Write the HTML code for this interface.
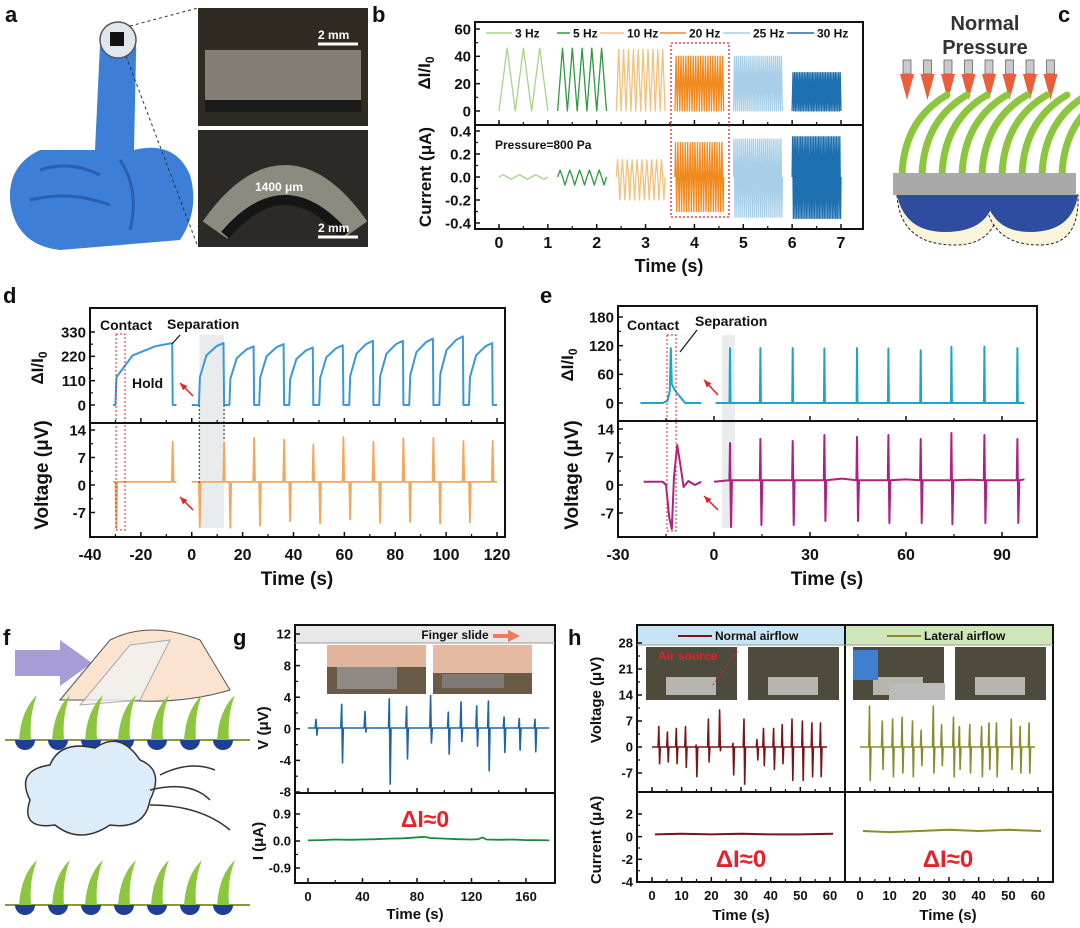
<!DOCTYPE html>
<html><head><meta charset="utf-8"><style>
html,body{margin:0;padding:0;background:#fff;}
svg{display:block;font-family:"Liberation Sans",Arial,sans-serif;font-weight:bold;}
</style></head><body>
<svg id="fig" width="1080" height="928" viewBox="0 0 1080 928" xmlns="http://www.w3.org/2000/svg">
<!-- panel labels -->
<g font-size="22" fill="#111">
<text x="5" y="22">a</text>
<text x="372" y="22">b</text>
<text x="1058" y="22">c</text>
<text x="3" y="303">d</text>
<text x="540" y="303">e</text>
<text x="3" y="645">f</text>
<text x="233" y="645">g</text>
<text x="568" y="645">h</text>
</g>
<!-- panel a illustration -->
<g>
<path d="M100,45 Q105,25 122,28 Q138,32 136,55 L134,150 Q175,140 190,175 Q200,210 180,240 L60,250 Q15,245 10,200 Q8,165 40,150 L95,150 Z" fill="#3d7fd6"/>
<path d="M40,170 Q70,160 100,175 M30,200 Q70,190 110,205 M120,160 Q140,190 130,230" stroke="#2a5fae" stroke-width="3" fill="none"/>
<circle cx="118" cy="40" r="18" fill="#dfe6ee" stroke="#555" stroke-width="1.5"/>
<rect x="110" y="32" width="14" height="14" fill="#111"/>
<line x1="130" y1="26" x2="198" y2="8" stroke="#333" stroke-dasharray="3,3"/>
<line x1="126" y1="56" x2="198" y2="247" stroke="#333" stroke-dasharray="3,3"/>
<rect x="198" y="8" width="170" height="118" fill="#2f2a22"/>
<rect x="205" y="50" width="156" height="52" fill="#9a958a" opacity="0.8"/>
<rect x="205" y="100" width="156" height="12" fill="#1a1a1a"/>
<rect x="198" y="130" width="170" height="117" fill="#2c2a26"/>
<path d="M215,230 Q285,130 355,230" stroke="#8d8a80" stroke-width="30" fill="none"/>
<path d="M225,235 Q285,165 345,235" stroke="#151515" stroke-width="10" fill="none"/>
<g font-size="12" fill="#fff"><text x="318" y="39">2 mm</text><text x="318" y="232">2 mm</text><text x="255" y="191">1400 μm</text></g>
<line x1="318" y1="44" x2="358" y2="44" stroke="#fff" stroke-width="3"/>
<line x1="318" y1="237" x2="358" y2="237" stroke="#fff" stroke-width="3"/>
</g>
<!-- panel c -->
<g>
<text x="985" y="30" font-size="20" text-anchor="middle" fill="#333">Normal</text>
<text x="985" y="54" font-size="20" text-anchor="middle" fill="#333">Pressure</text>
<g id="carrows"></g>
<g id="chairs"></g>
<path d="M897,195 Q900,245 955,245 Q1000,245 1000,195 Z" fill="#fbf5dc" stroke="#222" stroke-dasharray="3,2"/>
<path d="M985,195 Q988,245 1040,245 Q1080,245 1078,195 Z" fill="#fbf5dc" stroke="#222" stroke-dasharray="3,2"/>
<path d="M897,195 Q905,232 945,232 Q990,232 995,195 Z" fill="#2e4d9e"/>
<path d="M985,195 Q992,232 1030,232 Q1072,232 1078,195 Z" fill="#2e4d9e"/>
<rect x="893" y="173" width="183" height="22" fill="#a9a9a9"/>
</g>
<!-- panel f -->
<g>
<path d="M15,650 L60,650 L60,640 L92,663 L60,686 L60,676 L15,676 Z" fill="#a99bd8"/>
<path d="M60,700 L110,640 Q150,620 200,640 L230,690 Q180,705 120,700 Z" fill="#fbe3cf" stroke="#555"/>
<path d="M80,705 L130,645 L170,640 L140,700 Z" fill="#f1f1f1" stroke="#999" opacity="0.8"/>
<g id="fhairs1"></g>
<path d="M30,800 Q15,770 50,765 Q60,740 95,748 Q120,730 140,760 Q165,770 150,800 Q145,830 110,825 Q80,845 55,825 Q20,830 30,800 Z" fill="#dcecf8" stroke="#333" stroke-width="1.5"/>
<path d="M150,790 Q190,780 210,800 M150,805 Q200,805 230,830 M160,775 Q190,760 215,770" stroke="#333" fill="none" stroke-width="1.5"/>
<g id="fhairs2"></g>
</g>
<g id="charts"></g>
</svg>
<script>
// ---------------- DATA ----------------
// panel b
const bFreqLabels=['3 Hz','5 Hz','10 Hz','20 Hz','25 Hz','30 Hz'];
const bFreqs=[3,5,10,20,25,30];
const bSegStart=[0,1.2,2.4,3.6,4.8,6.0];
const bSegEnd=[1.0,2.2,3.4,4.6,5.8,7.0];
const bRatioPeak=[46,46,45,40,40,28];
const bCurrentUp=[0.02,0.06,0.15,0.3,0.33,0.35];
const bCurrentDown=[-0.02,-0.07,-0.2,-0.3,-0.35,-0.36];
const bTicksX=[0,1,2,3,4,5,6,7];
const bTicksTop=[0,20,40,60];
const bTicksBottom=[-0.4,-0.2,0.0,0.2,0.4];
const bTickLabelsBottom=['-0.4','-0.2','0.0','0.2','0.4'];
// panel d
const dRise=[-30,2.8,14.8,26.5,38.3,50.1,61.9,73.7,85.5,97.3,109];
const dFall=[-7.5,12.7,24.5,36.3,47.8,59.6,71.4,83.2,95,106.8,118.3];
const dPlateau=[280,280,265,275,260,270,290,290,300,310,280];
const dVoltNeg=[-11,-10.7,-10.9,-10.4,-9.2,-9.8,-8.8,-9.6,-9.4,-9.8,-9.5];
const dVoltPos=[11,10.9,12,11.5,10.3,12.2,11,11.9,12,11.2,11.2];
const dTicksX=[-40,-20,0,20,40,60,80,100,120];
const dTicksTop=[0,110,220,330];
const dTicksBottom=[-7,0,7,14];
// panel e
const eSpikeT=[5,14.5,24.6,34.5,44.7,54.5,64.6,74.2,84.5,94.8];
const eSpikeH=[115,115,115,114,115,114,110,118,118,115];
const eVoltUp=[10.5,11.5,11,12.5,12,12.5,11.5,13,12.5,11.5];
const eVoltDown=[-10.5,-10,-10,-9,-9,-9.5,-9.5,-9.8,-9.5,-9.5];
const ePreT=[-23,-16,-14.5,-13.8,-13.5,-13.2,-12.5,-11.5,-10,-9,-4];
const ePreV=[0,0,5,25,115,40,30,20,8,0,0];
const ePreVoltT=[-22,-16,-15,-14,-13.2,-12.5,-11.5,-10.5,-9.5,-8,-6,-4];
const ePreVolt=[0.8,0.8,0,-8,-11,2,10,5,-0.5,1,0,0.8];
const eBaseT=[0,20,40,60,80,97];
const eBaseV=[0.8,1.2,1.6,1.4,1.3,1.4];
const eTicksX=[-30,0,30,60,90];
const eTicksTop=[0,60,120,180];
const eTicksBottom=[-7,0,7,14];
// panel g
const gSpikeT=[5.9,24.7,41.8,59.7,72.4,90,103,112.3,123.8,132.4,143.9,155.1,166.6];
const gSpikeUp=[1.2,3.1,2.2,3.8,2.8,4.2,2.1,3.4,2.9,3.5,1.5,1.3,1.2];
const gSpikeDown=[-0.8,-4.3,-0.4,-7,-3.8,-1.8,-3.2,-1.6,-2.2,-5.3,-3,-2.7,-2.9];
const gCurT=[0,10,20,30,40,50,60,70,80,85,90,100,110,120,125,128,131,140,150,160,170,177];
const gCurV=[0.02,0.03,0.05,0.04,0.05,0.06,0.08,0.09,0.12,0.14,0.1,0.08,0.06,0.05,0.06,0.12,0.05,0.04,0.05,0.03,0.03,0.02];
const gTicksX=[0,40,80,120,160];
const gTicksTop=[-8,-4,0,4,8,12];
const gTicksBottom=[-0.9,0,0.9];
const gTickLabelsBottom=['-0.9','0.0','0.9'];
// panel h
const hNormT=[2.3,5.2,8.2,11.3,14.9,19,22.8,27.3,31,35.4,37.6,41,43.9,47.2,50.7,53.9,56.8];
const hNormUp=[5.5,4,5,5.5,0.5,7.5,10,1,7.5,2,5,5,6,7.5,7,6.5,6.5];
const hNormDown=[-4.5,-4,-4.5,-5.5,-8,-4,-1,-7.5,-10,-3.5,-5,-6,-4.5,-9,-9,-8,-8];
const hLatT=[3.2,7.5,11,14.2,17.7,20.6,24.7,27.5,31.5,33.5,37,41,43.5,46,51,54,57];
const hLatUp=[11,7,7.5,8,7,4.5,11,6,8,5.5,6,5.5,6.5,6.5,7.5,5.5,6.5];
const hLatDown=[-9,-6,-8,-7,-8,-5,-7,-5,-8,-6,-7,-8,-6,-8,-6,-7,-7];
const hCurNormT=[1,10,20,30,40,50,61];
const hCurNorm=[0.2,0.25,0.2,0.25,0.2,0.2,0.25];
const hCurLatT=[1,10,20,30,40,50,61];
const hCurLat=[0.5,0.4,0.5,0.6,0.5,0.6,0.5];
const hTicksX=[0,10,20,30,40,50,60];
const hTicksTop=[-7,0,7,14,21,28];
const hTicksBottom=[-4,-2,0,2];

// ---------------- HELPERS ----------------
const NS='http://www.w3.org/2000/svg';
const root=document.getElementById('charts');
function mk(tag,attrs,parent,name){
  const e=document.createElementNS(NS,tag);
  for(const k in attrs) e.setAttribute(k,attrs[k]);
  
  
  (parent||root).appendChild(e);
  return e;
}
function sc(d0,d1,p0,p1){return v=>p0+(v-d0)*(p1-p0)/(d1-d0);}
function poly(pts,color,w,parent,name){
  mk('polyline',{points:pts.map(p=>p[0].toFixed(1)+','+p[1].toFixed(1)).join(' '),fill:'none',stroke:color,'stroke-width':w,'stroke-linejoin':'round'},parent,name);
}
function txt(x,y,s,size,parent,name,anchor,color,rot){
  const a={x:x,y:y,'font-size':size,'text-anchor':anchor||'middle',fill:color||'#111'};
  if(rot) a.transform='rotate(-90 '+x+' '+y+')';
  const t=mk('text',a,parent,name); t.textContent=s; return t;
}
function yAxis(g,x,ys,ticks,labels,size,name){
  ticks.forEach((v,i)=>{
    const y=ys(v);
    mk('line',{x1:x,y1:y,x2:x+5,y2:y,stroke:'#111','stroke-width':1.5},g,name+'-tick');
    txt(x-4,y+size*0.36,labels?labels[i]:String(v),size,g,name+'-label','end');
  });
  for(let i=0;i<ticks.length-1;i++){
    const y=(ys(ticks[i])+ys(ticks[i+1]))/2;
    mk('line',{x1:x,y1:y,x2:x+3,y2:y,stroke:'#111','stroke-width':1.2},g,name+'-minor-tick');
  }
}
function xAxis(g,y,xs,ticks,size,name,labelY,noLabel){
  ticks.forEach(v=>{
    const x=xs(v);
    mk('line',{x1:x,y1:y,x2:x,y2:y-5,stroke:'#111','stroke-width':1.5},g,name+'-tick');
    if(!noLabel) txt(x,labelY,String(v),size,g,name+'-label');
  });
  for(let i=0;i<ticks.length-1;i++){
    const x=(xs(ticks[i])+xs(ticks[i+1]))/2;
    mk('line',{x1:x,y1:y,x2:x,y2:y-3,stroke:'#111','stroke-width':1.2},g,name+'-minor-tick');
  }
}
function box(g,x0,y0,x1,y1,name){mk('rect',{x:x0,y:y0,width:x1-x0,height:y1-y0,fill:'none',stroke:'#111','stroke-width':2},g,name);}
function spikes(xs,ys,times,ups,downs,t0,t1,base,w){
  const pts=[[xs(t0),ys(base)]];
  times.forEach((t,i)=>{
    pts.push([xs(t-w),ys(base)],[xs(t),ys(ups[i])],[xs(t+w),ys(downs[i])],[xs(t+2*w),ys(base)]);
  });
  pts.push([xs(t1),ys(base)]);
  return pts;
}
function redArrow(g,x1,y1,x2,y2,name){
  mk('line',{x1:x1,y1:y1,x2:x2,y2:y2,stroke:'#e8202a','stroke-width':1.5},g,name);
  const a=Math.atan2(y2-y1,x2-x1),L=8;
  mk('polygon',{points:[x2,y2,x2-L*Math.cos(a-0.4),y2-L*Math.sin(a-0.4),x2-L*Math.cos(a+0.4),y2-L*Math.sin(a+0.4)].join(','),fill:'#e8202a'},g,name+'-head');
}

// ---------------- PANEL B ----------------
(function(){
  const g=mk('g',{},root,'panel-b-chart');
  const xb=sc(0,7,499,841), yT=sc(0,60,111,29), yB=sc(-0.4,0.4,223,131);
  const colors=['#a8d58a','#2e9a3e','#f5c07a','#f08a1e','#a9cfe8','#1e6fb0'];
  bFreqs.forEach((f,i)=>{
    const T=1/f, n=Math.round((bSegEnd[i]-bSegStart[i])*f);
    const top=[],bot=[];
    for(let k=0;k<n;k++){
      const t0=bSegStart[i]+k*T;
      top.push([xb(t0),yT(0)],[xb(t0+T*0.5),yT(bRatioPeak[i])],[xb(t0+T),yT(0)]);
      bot.push([xb(t0),yB(0)],[xb(t0+T*0.25),yB(bCurrentUp[i])],[xb(t0+T*0.5),yB(0)],[xb(t0+T*0.75),yB(bCurrentDown[i])],[xb(t0+T),yB(0)]);
    }
    poly(top,colors[i],1.3,g,'ratio-trace-'+f+'hz');
    poly(bot,colors[i],1.3,g,'current-trace-'+f+'hz');
  });
  box(g,475,22,863,229,'plot-frame');
  mk('line',{x1:475,y1:125,x2:863,y2:125,stroke:'#111','stroke-width':2},g,'panel-divider');
  yAxis(g,475,yT,bTicksTop,null,15,'y-axis-ratio');
  yAxis(g,475,yB,bTicksBottom,bTickLabelsBottom,15,'y-axis-current');
  xAxis(g,229,xb,bTicksX,16,'x-axis',248);
  xAxis(g,125,xb,bTicksX,16,'x-axis-top',0,true);
  txt(669,272,'Time (s)',18,g,'x-axis-title');
  const t1=txt(430,73,'ΔI/I',17,g,'y-axis-title-ratio','middle','#111',true);
  const s=mk('tspan',{'font-size':12,dy:4},t1,'subscript'); s.textContent='0';
  txt(431,177,'Current (μA)',17,g,'y-axis-title-current','middle','#111',true);
  const lx=[486,557,600,660,723,787], tx=[515,573,627,689,753,817];
  bFreqLabels.forEach((l,i)=>{
    mk('line',{x1:lx[i],y1:33,x2:tx[i]-3,y2:33,stroke:colors[i],'stroke-width':1.5},g,'legend-line');
    txt(tx[i],37.5,l,12,g,'legend-entry','start');
  });
  txt(495,149,'Pressure=800 Pa',12,g,'pressure-label','start');
  mk('rect',{x:671,y:43,width:58,height:174,fill:'none',stroke:'#e8202a','stroke-width':1.3,'stroke-dasharray':'2,2'},g,'highlight-box-20hz');
})();

// ---------------- PANEL D ----------------
(function(){
  const g=mk('g',{},root,'panel-d-chart');
  const xd=sc(-40,120,90,497), yT=sc(0,330,405,332), yB=sc(0,14,485,430);
  mk('rect',{x:xd(3),y:335,width:xd(12.7)-xd(3),height:193,fill:'#e9ecec'},g,'highlight-cycle');
  const pre=[],main=[];
  dRise.forEach((r,i)=>{
    const f=dFall[i],P=dPlateau[i],arr=i===0?pre:main;
    arr.push([xd(r-0.5),yT(0)],[xd(r),yT(0)],[xd(r+0.4),yT(P*0.45)],[xd(r+(f-r)*0.3),yT(P*0.8)],[xd(r+(f-r)*0.7),yT(P*0.95)],[xd(f-0.2),yT(P)],[xd(f),yT(0)],[xd(f+0.8),yT(0)]);
  });
  poly([[xd(-31),yT(0)]].concat(pre).concat([[xd(-6),yT(0)]]),'#3a98d8',2,g,'ratio-trace-pre');
  poly([[xd(0),yT(0)]].concat(main).concat([[xd(120),yT(0)]]),'#3a98d8',2,g,'ratio-trace');
  poly(spikes(xd,yB,[dRise[0],dFall[0]],[0.8,dVoltPos[0]],[dVoltNeg[0],0.8],-31,-6,0.8,0.35),'#f5a65b',1.8,g,'voltage-trace-pre');
  const vt=[],vu=[],vd=[];
  for(let i=1;i<dRise.length;i++){vt.push(dRise[i]);vu.push(0.8);vd.push(dVoltNeg[i]);vt.push(dFall[i]);vu.push(dVoltPos[i]);vd.push(0.8);}
  poly(spikes(xd,yB,vt,vu,vd,0,120,0.8,0.35),'#f5a65b',1.8,g,'voltage-trace');
  mk('rect',{x:116,y:334,width:9,height:196,fill:'none',stroke:'#e8202a','stroke-width':1,'stroke-dasharray':'2,2'},g,'contact-marker');
  mk('line',{x1:xd(3),y1:405,x2:xd(3),y2:483,stroke:'#555','stroke-dasharray':'2,2','stroke-width':1.3},g,'guide-line-rise');
  mk('line',{x1:xd(12.7),y1:405,x2:xd(12.7),y2:440,stroke:'#555','stroke-dasharray':'2,2','stroke-width':1.3},g,'guide-line-fall');
  box(g,90,308,505,537,'plot-frame');
  mk('line',{x1:90,y1:423,x2:505,y2:423,stroke:'#111','stroke-width':2},g,'panel-divider');
  yAxis(g,90,yT,dTicksTop,null,15,'y-axis-ratio');
  yAxis(g,90,yB,dTicksBottom,null,15,'y-axis-voltage');
  xAxis(g,537,xd,dTicksX,16,'x-axis',560);
  xAxis(g,423,xd,dTicksX,16,'x-axis-top',0,true);
  txt(297,585,'Time (s)',19,g,'x-axis-title');
  const t1=txt(43,368,'ΔI/I',17,g,'y-axis-title-ratio','middle','#111',true);
  const s=mk('tspan',{'font-size':12,dy:4},t1,'subscript'); s.textContent='0';
  txt(48,475,'Voltage (μV)',19,g,'y-axis-title-voltage','middle','#111',true);
  txt(100,330,'Contact',14,g,'contact-label','start');
  txt(167,329,'Separation',14,g,'separation-label','start');
  txt(132,388,'Hold',14,g,'hold-label','start');
  mk('line',{x1:172,y1:344,x2:180,y2:335,stroke:'#111','stroke-width':1.2},g,'separation-pointer');
  redArrow(g,193,396,180,383,'red-arrow-top');
  redArrow(g,193,510,180,497,'red-arrow-bottom');
})();

// ---------------- PANEL E ----------------
(function(){
  const g=mk('g',{},root,'panel-e-chart');
  const xe=sc(-30,0,618,714), yT=sc(0,180,403,317), yB=sc(0,14,485,429);
  mk('rect',{x:xe(2.5),y:335,width:xe(6.5)-xe(2.5),height:193,fill:'#e9ecec'},g,'highlight-spike');
  poly(ePreT.map((t,i)=>[xe(t),yT(ePreV[i])]),'#1aa6c9',2,g,'ratio-trace-pre');
  poly(spikes(xe,yT,eSpikeT,eSpikeH,eSpikeH.map(()=>0),0.5,97,0,0.15),'#1aa6c9',2,g,'ratio-trace');
  poly(ePreVoltT.map((t,i)=>[xe(t),yB(ePreVolt[i])]),'#b0207e',2,g,'voltage-trace-pre');
  const base=sc(0,97,0,1);
  const pts=[];
  let si=0;
  for(let k=0;k<eBaseT.length;k++){
    while(si<eSpikeT.length&&eSpikeT[si]<eBaseT[k]){
      const t=eSpikeT[si];pts.push([xe(t-0.2),yB(1.2)],[xe(t),yB(eVoltUp[si])],[xe(t+0.3),yB(eVoltDown[si])],[xe(t+0.6),yB(1.2)]);si++;
    }
    pts.push([xe(eBaseT[k]),yB(eBaseV[k])]);
  }
  poly(pts,'#b0207e',2,g,'voltage-trace');
  mk('rect',{x:667,y:335,width:9,height:196,fill:'none',stroke:'#e8202a','stroke-width':1,'stroke-dasharray':'2,2'},g,'contact-marker');
  box(g,618,306,1037,537,'plot-frame');
  mk('line',{x1:618,y1:421,x2:1037,y2:421,stroke:'#111','stroke-width':2},g,'panel-divider');
  yAxis(g,618,yT,eTicksTop,null,15,'y-axis-ratio');
  yAxis(g,618,yB,eTicksBottom,null,15,'y-axis-voltage');
  xAxis(g,537,xe,eTicksX,16,'x-axis',560);
  xAxis(g,421,xe,eTicksX,16,'x-axis-top',0,true);
  txt(827,585,'Time (s)',19,g,'x-axis-title');
  const t1=txt(573,365,'ΔI/I',17,g,'y-axis-title-ratio','middle','#111',true);
  const s=mk('tspan',{'font-size':12,dy:4},t1,'subscript'); s.textContent='0';
  txt(578,475,'Voltage (μV)',19,g,'y-axis-title-voltage','middle','#111',true);
  txt(627,330,'Contact',14,g,'contact-label','start');
  txt(695,326,'Separation',14,g,'separation-label','start');
  mk('line',{x1:680,y1:352,x2:697,y2:330,stroke:'#111','stroke-width':1.2},g,'separation-pointer');
  redArrow(g,718,395,704,380,'red-arrow-top');
  redArrow(g,718,510,704,496,'red-arrow-bottom');
})();

// ---------------- PANEL G ----------------
(function(){
  const g=mk('g',{},root,'panel-g-chart');
  const xg=sc(0,160,308,526), yT=sc(-8,12,792,634), yB=sc(-0.9,0.9,868,814);
  mk('rect',{x:295,y:625,width:260,height:18,fill:'#e8e8e8'},g,'header-band');
  txt(455,639,'Finger slide',12,g,'finger-slide-label','middle');
  mk('polygon',{points:'493,634 508,634 508,630 520,636 508,642 508,638 493,638',fill:'#ef7b5a'},g,'slide-arrow');
  mk('rect',{x:327,y:645,width:99,height:49,fill:'#6b5a48'},g,'photo-1');
  mk('rect',{x:327,y:645,width:99,height:22,fill:'#e3b49c'},g,'photo-1-finger');
  mk('rect',{x:337,y:667,width:60,height:22,fill:'#8f8a85'},g,'photo-1-hairs');
  mk('rect',{x:433,y:645,width:99,height:49,fill:'#6b5a48'},g,'photo-2');
  mk('rect',{x:433,y:645,width:99,height:28,fill:'#e6b9a2'},g,'photo-2-finger');
  mk('rect',{x:442,y:674,width:62,height:14,fill:'#7f7a75'},g,'photo-2-hairs');
  poly(spikes(xg,yT,gSpikeT,gSpikeUp,gSpikeDown,0,177,0.1,0.6),'#1d64a8',1.6,g,'voltage-trace');
  poly(gCurT.map((t,i)=>[xg(t),yB(gCurV[i])]),'#1a8a3a',1.8,g,'current-trace');
  txt(425,827,'ΔI≈0',23,g,'delta-i-annotation','middle','#e8202a');
  box(g,295,625,555,883,'plot-frame');
  mk('line',{x1:295,y1:643,x2:555,y2:643,stroke:'#999','stroke-width':1},g,'header-divider');
  mk('line',{x1:295,y1:793,x2:555,y2:793,stroke:'#111','stroke-width':2},g,'panel-divider');
  yAxis(g,295,yT,gTicksTop,null,13,'y-axis-voltage');
  yAxis(g,295,yB,gTicksBottom,gTickLabelsBottom,13,'y-axis-current');
  xAxis(g,883,xg,gTicksX,13,'x-axis',901);
  xAxis(g,793,xg,gTicksX,13,'x-axis-top',0,true);
  txt(415,919,'Time (s)',15,g,'x-axis-title');
  txt(268,728,'V (μV)',15,g,'y-axis-title-voltage','middle','#111',true);
  txt(263,841,'I (μA)',15,g,'y-axis-title-current','middle','#111',true);
})();

// ---------------- PANEL H ----------------
(function(){
  const g=mk('g',{},root,'panel-h-chart');
  const xL=sc(0,60,652,830), xR=sc(0,60,860,1038), yT=sc(-7,28,773,643), yB=sc(-4,4,882,791.3);
  mk('rect',{x:637,y:625,width:208,height:20,fill:'#c8e4f4'},g,'header-normal');
  mk('rect',{x:845,y:625,width:208,height:20,fill:'#cfe6b8'},g,'header-lateral');
  mk('line',{x1:678,y1:636,x2:712,y2:636,stroke:'#7a1416','stroke-width':2},g,'legend-line-normal');
  txt(715,640,'Normal airflow',12,g,'legend-normal','start');
  mk('line',{x1:887,y1:636,x2:921,y2:636,stroke:'#8c8a2a','stroke-width':2},g,'legend-line-lateral');
  txt(924,640,'Lateral airflow',12,g,'legend-lateral','start');
  [[646,'photo-normal-1'],[748,'photo-normal-2'],[853,'photo-lateral-1'],[955,'photo-lateral-2']].forEach(p=>{
    mk('rect',{x:p[0],y:647,width:91,height:53,fill:'#4e4a3c'},g,p[1]);
    mk('rect',{x:p[0]+20,y:677,width:50,height:18,fill:'#b7b5ad'},g,p[1]+'-hairs');
  });
  mk('rect',{x:853,y:650,width:25,height:30,fill:'#3f7fd0'},g,'air-nozzle');
  mk('rect',{x:889,y:683,width:56,height:17,fill:'#bbb'},g,'stage');
  txt(658,660,'Air source',12,g,'air-source-label','start','#e8202a');
  mk('line',{x1:713,y1:685,x2:738,y2:650,stroke:'#e8202a','stroke-dasharray':'2,2'},g,'zoom-line');
  poly(spikes(xL,yT,hNormT,hNormUp,hNormDown,0,59,0,0.25),'#7a1416',1.6,g,'voltage-trace-normal');
  poly(spikes(xR,yT,hLatT,hLatUp,hLatDown,0,59,0,0.25),'#8c8a2a',1.6,g,'voltage-trace-lateral');
  poly(hCurNormT.map((t,i)=>[xL(t),yB(hCurNorm[i])]),'#7a1416',2,g,'current-trace-normal');
  poly(hCurLatT.map((t,i)=>[xR(t),yB(hCurLat[i])]),'#8c8a2a',2,g,'current-trace-lateral');
  txt(741,867,'ΔI≈0',24,g,'delta-i-normal','middle','#e8202a');
  txt(948,867,'ΔI≈0',24,g,'delta-i-lateral','middle','#e8202a');
  box(g,637,625,1053,882,'plot-frame');
  mk('line',{x1:845,y1:625,x2:845,y2:882,stroke:'#111','stroke-width':2},g,'panel-split');
  mk('line',{x1:637,y1:792,x2:1053,y2:792,stroke:'#111','stroke-width':2},g,'panel-divider');
  mk('line',{x1:637,y1:645,x2:1053,y2:645,stroke:'#999','stroke-width':1},g,'header-divider');
  yAxis(g,637,yT,hTicksTop,null,13,'y-axis-voltage');
  yAxis(g,637,yB,hTicksBottom,null,13,'y-axis-current');
  xAxis(g,882,xL,hTicksX,13,'x-axis-normal',900);
  xAxis(g,882,xR,hTicksX,13,'x-axis-lateral',900);
  xAxis(g,792,xL,hTicksX,13,'x-axis-normal-top',0,true);
  xAxis(g,792,xR,hTicksX,13,'x-axis-lateral-top',0,true);
  txt(741,920,'Time (s)',15,g,'x-axis-title-normal');
  txt(948,920,'Time (s)',15,g,'x-axis-title-lateral');
  txt(601,700,'Voltage (μV)',15,g,'y-axis-title-voltage','middle','#111',true);
  txt(601,840,'Current (μA)',15,g,'y-axis-title-current','middle','#111',true);
})();

// ---------------- ILLUSTRATION DETAILS ----------------
(function(){
  const ca=document.getElementById('carrows');
  for(let i=0;i<8;i++){
    const x=907+i*20.5;
    mk('rect',{x:x-4,y:60,width:8,height:14,fill:'#c9c9c9',stroke:'#666','stroke-width':0.8},ca,'pressure-arrow-shaft');
    mk('polygon',{points:(x-7)+',74 '+(x+7)+',74 '+x+',100',fill:'#e8603a'},ca,'pressure-arrow-head');
  }
  const ch=document.getElementById('chairs');
  for(let i=0;i<9;i++){
    const x=902+i*20;
    mk('path',{d:'M'+x+',175 Q'+(x+2)+',120 '+(x+45)+',95',stroke:'#8cc63f','stroke-width':7,fill:'none','stroke-linecap':'round'},ch,'hair');
  }
  function hairs(id,y){
    const gg=document.getElementById(id);
    mk('line',{x1:5,y1:y,x2:250,y2:y,stroke:'#8a9a3a','stroke-width':2},gg,'substrate-line');
    for(let i=0;i<7;i++){
      const x=25+i*33;
      mk('path',{d:'M'+(x-10)+','+y+' A10,10 0 0,0 '+(x+10)+','+y+' Z',fill:'#1d3f95'},gg,'magnet-bump');
      mk('path',{d:'M'+(x-6)+','+y+' Q'+(x-4)+','+(y-30)+' '+(x+12)+','+(y-45)+' Q'+(x+4)+','+(y-25)+' '+(x+6)+','+y+' Z',fill:'#8cc63f'},gg,'hair');
    }
  }
  hairs('fhairs1',740);hairs('fhairs2',905);
})();
</script>
</body></html>
